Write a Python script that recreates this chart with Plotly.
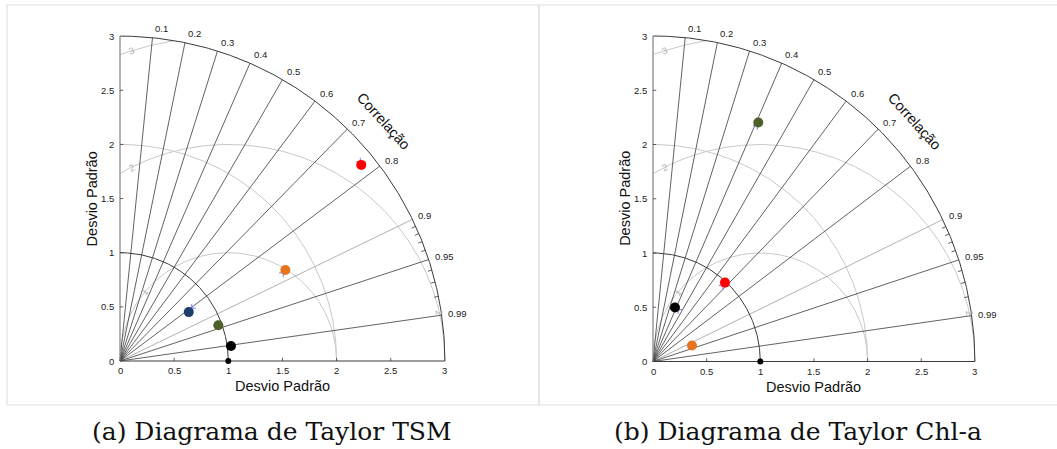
import numpy as np
import plotly.graph_objects as go

# ---------------- data ----------------
# (a) TSM
tsm_std = [2.871, 1.743, 0.779, 0.966, 1.034]
tsm_corr = [0.776, 0.876, 0.815, 0.940, 0.991]
tsm_colors = ["#FF0000", "#E8731F", "#1E3E6C", "#4E6128", "#000000"]
tsm_plus_std = [2.882, 1.714, 0.823, 0.966, 1.034]
tsm_plus_corr = [0.770, 0.880, 0.805, 0.940, 0.991]

# (b) Chl-a
chl_std = [2.411, 0.989, 0.538, 0.392]
chl_corr = [0.407, 0.678, 0.381, 0.927]
chl_colors = ["#4E6128", "#FF0000", "#000000", "#E8731F"]
chl_plus_std = [2.381, 0.956, 0.532, 0.392]
chl_plus_corr = [0.408, 0.682, 0.438, 0.927]

ref_std = 1.0
std_max = 3.0
corr_ticks = [0.1, 0.2, 0.3, 0.4, 0.5, 0.6, 0.7, 0.8, 0.9, 0.95, 0.99]
corr_tick_labels = ["0.1", "0.2", "0.3", "0.4", "0.5", "0.6", "0.7", "0.8", "0.9", "0.95", "0.99"]
corr_minor = [0.91, 0.92, 0.93, 0.94, 0.96, 0.97, 0.98]
std_ticks = [0, 0.5, 1, 1.5, 2, 2.5, 3]
std_tick_labels = ["0", "0.5", "1", "1.5", "2", "2.5", "3"]
rms_levels = [1, 2, 3]
rms_label_x_left = [0.23, 0.11, 0.11]   # where RMS labels sit (x position) near the y axis
captions = ["(a) Diagrama de Taylor TSM", "(b) Diagrama de Taylor Chl-a"]
axis_title = "Desvio Padrão"
corr_title = "Correlação"

W, H = 1057, 449
SANS = "Liberation Sans, Arial, sans-serif"
DARK = "#3a3a3a"
LIGHT = "#c8c8c8"

fig = go.Figure()


def seg_trace(xs, ys, color, width, xa, ya):
    return go.Scatter(x=xs, y=ys, mode="lines", line=dict(color=color, width=width),
                      hoverinfo="skip", showlegend=False, xaxis=xa, yaxis=ya)


def add_taylor(xa, ya, std, corr, colors, pstd, pcorr):
    xr, yr = xa, ya
    th = np.linspace(0, np.pi / 2, 200)
    # correlation rays
    dx, dy, gx, gy = [], [], [], []
    for c in corr_ticks:
        a = np.arccos(c)
        if c == 0.9:
            gx += [0, std_max * np.cos(a), None]
            gy += [0, std_max * np.sin(a), None]
        else:
            dx += [0, std_max * np.cos(a), None]
            dy += [0, std_max * np.sin(a), None]
    # RMS circles centred on reference
    for r in rms_levels:
        ph = np.linspace(0, np.pi, 600)
        x = ref_std + r * np.cos(ph)
        y = r * np.sin(ph)
        ok = (x >= 0) & (np.hypot(x, y) <= std_max + 1e-9)
        xs = np.where(ok, x, np.nan)
        ys = np.where(ok, y, np.nan)
        fig.add_trace(go.Scatter(x=xs, y=ys, mode="lines", line=dict(color=LIGHT, width=1),
                                 hoverinfo="skip", showlegend=False, xaxis=xa, yaxis=ya,
                                 connectgaps=False))
    # std arc 2 (light)
    fig.add_trace(seg_trace(2 * np.cos(th), 2 * np.sin(th), LIGHT, 1, xa, ya))
    fig.add_trace(seg_trace(gx, gy, "#a8a8a8", 0.9, xa, ya))
    fig.add_trace(seg_trace(dx, dy, DARK, 0.8, xa, ya))
    # reference std arc and outer arc
    fig.add_trace(seg_trace(ref_std * np.cos(th), ref_std * np.sin(th), DARK, 1, xa, ya))
    fig.add_trace(seg_trace(std_max * np.cos(th), std_max * np.sin(th), DARK, 1, xa, ya))
    # minor ticks on outer arc
    mx, my = [], []
    for c in corr_minor:
        a = np.arccos(c)
        mx += [2.96 * np.cos(a), std_max * np.cos(a), None]
        my += [2.96 * np.sin(a), std_max * np.sin(a), None]
    fig.add_trace(seg_trace(mx, my, DARK, 0.8, xa, ya))
    # axes
    fig.add_trace(seg_trace([0, std_max], [0, 0], DARK, 1, xa, ya))
    fig.add_trace(seg_trace([0, 0], [0, std_max], "#8a8a8a", 1.3, xa, ya))
    tx, ty = [], []
    for t in std_ticks[1:-1]:
        tx += [t, t, None, 0, 0.03, None]
        ty += [0, 0.03, None, t, t, None]
    fig.add_trace(seg_trace(tx, ty, DARK, 0.8, xa, ya))
    # plus markers
    pa = np.arccos(np.array(pcorr))
    fig.add_trace(go.Scatter(x=np.array(pstd) * np.cos(pa), y=np.array(pstd) * np.sin(pa),
                             mode="markers", marker=dict(symbol="cross-thin", size=6,
                                                         line=dict(color="#7a7aff", width=1)),
                             hoverinfo="skip", showlegend=False, xaxis=xa, yaxis=ya))
    # model points
    a = np.arccos(np.array(corr))
    fig.add_trace(go.Scatter(x=np.array(std) * np.cos(a), y=np.array(std) * np.sin(a),
                             mode="markers", marker=dict(size=10, color=colors, line=dict(width=0)),
                             showlegend=False, xaxis=xa, yaxis=ya, cliponaxis=False))
    # reference point
    fig.add_trace(go.Scatter(x=[ref_std], y=[0], mode="markers",
                             marker=dict(size=6, color="black"), showlegend=False,
                             xaxis=xa, yaxis=ya, cliponaxis=False))

    tickfont = dict(family=SANS, size=9.5, color="#222")
    ann = []
    for t, lab in zip(std_ticks, std_tick_labels):
        ann.append(dict(x=t, y=-0.09, xref=xr, yref=yr, text=lab, showarrow=False,
                        xanchor="center", yanchor="middle", font=tickfont))
        ann.append(dict(x=-0.035, y=t, xref=xr, yref=yr, text=lab, showarrow=False,
                        xanchor="right", yanchor="middle", font=tickfont))
    for c, lab in zip(corr_ticks, corr_tick_labels):
        ang = np.arccos(c)
        ann.append(dict(x=3.04 * np.cos(ang), y=3.04 * np.sin(ang), xref=xr, yref=yr, text=lab,
                        showarrow=False, xanchor="left", yanchor="middle",
                        yshift=5 * np.sin(ang), font=tickfont))
    # RMS labels
    rmsfont = dict(family=SANS, size=9.5, color="#b0b0b0")
    for r, xl in zip(rms_levels, rms_label_x_left):
        ph = np.arccos((xl - ref_std) / r)
        ann.append(dict(x=ref_std + r * np.cos(ph), y=r * np.sin(ph), xref=xr, yref=yr, text=str(r),
                        showarrow=False, textangle=-(np.degrees(ph) - 90), font=rmsfont))
    ph = np.arcsin(0.225)
    ann.append(dict(x=ref_std + 2 * np.cos(ph), y=2 * np.sin(ph), xref=xr, yref=yr, text="2",
                    showarrow=False, textangle=-(np.degrees(ph) - 90), font=rmsfont))
    ann.append(dict(x=1.5, y=-0.235, xref=xr, yref=yr, text=axis_title, showarrow=False,
                    font=dict(family=SANS, size=14.5, color="#111")))
    ann.append(dict(x=-0.26, y=1.5, xref=xr, yref=yr, text=axis_title, showarrow=False,
                    textangle=-90, font=dict(family=SANS, size=14.5, color="#111")))
    pos = np.radians(42.3)
    ann.append(dict(x=3.29 * np.cos(pos), y=3.29 * np.sin(pos), xref=xr, yref=yr, text=corr_title,
                    showarrow=False, textangle=90 - 42.3, font=dict(family=SANS, size=14.5, color="#111")))
    return ann


ann1 = add_taylor("x", "y", tsm_std, tsm_corr, tsm_colors, tsm_plus_std, tsm_plus_corr)
ann2 = add_taylor("x2", "y2", chl_std, chl_corr, chl_colors, chl_plus_std, chl_plus_corr)


def dom(origin_px, scale, lo, hi, horizontal):
    if horizontal:
        return [(origin_px + lo * scale) / W, (origin_px + hi * scale) / W]
    return [(H - (origin_px - lo * scale)) / H, (H - (origin_px - hi * scale)) / H]


xr_ = [-0.4, 3.6]
yr_ = [-0.35, 3.3]
axcommon = dict(visible=False, fixedrange=True, showgrid=False, zeroline=False)

caps = []
for cx, txt in zip([272, 798], captions):
    caps.append(dict(x=cx / W, y=1 - 431 / H, xref="paper", yref="paper", text=txt, showarrow=False,
                     xanchor="center", yanchor="middle",
                     font=dict(family="DejaVu Serif, serif", size=25, color="#111")))

shapes = [
    dict(type="rect", xref="paper", yref="paper", x0=7 / W, x1=539 / W, y0=1 - 405 / H, y1=1 - 5 / H,
         line=dict(color="#dddddd", width=1), layer="below"),
    dict(type="rect", xref="paper", yref="paper", x0=539 / W, x1=1060 / W, y0=1 - 405 / H, y1=1 - 5 / H,
         line=dict(color="#dddddd", width=1), layer="below"),
]

fig.update_layout(
    width=W, height=H, margin=dict(l=0, r=0, t=0, b=0),
    paper_bgcolor="white", plot_bgcolor="rgba(0,0,0,0)",
    xaxis=dict(domain=dom(120, 108.3, *xr_, True), range=xr_, **axcommon),
    yaxis=dict(domain=dom(361, 108.3, *yr_, False), range=yr_, **axcommon),
    xaxis2=dict(domain=dom(653, 107.3, *xr_, True), range=xr_, anchor="y2", **axcommon),
    yaxis2=dict(domain=dom(361.5, 108.5, *yr_, False), range=yr_, anchor="x2", **axcommon),
    annotations=ann1 + ann2 + caps,
    shapes=shapes,
    showlegend=False,
    hovermode=False,
)

fig.write_html("out.html", config={"displayModeBar": False, "staticPlot": True},
               post_script="document.body.style.margin='0';document.body.style.overflow='hidden';")
